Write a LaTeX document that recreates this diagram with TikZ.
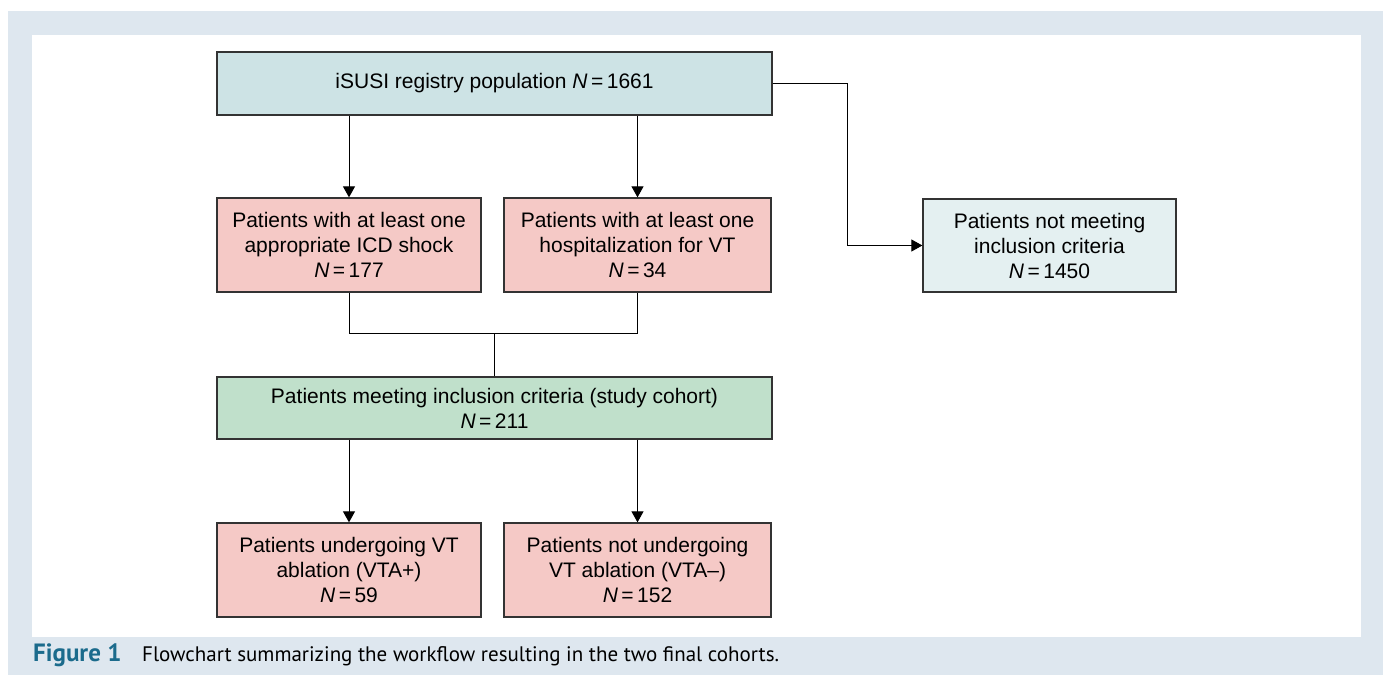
\documentclass[tikz,border=0pt]{standalone}
\usepackage{fontspec}
\setmainfont{Liberation Sans}
\newfontfamily\capfont{PT Sans}
\usetikzlibrary{arrows.meta}
\definecolor{panel}{HTML}{DEE7EF}
\definecolor{topfill}{HTML}{CDE3E5}
\definecolor{pinkfill}{HTML}{F5C9C6}
\definecolor{greenfill}{HTML}{C0E0CB}
\definecolor{palefill}{HTML}{E4F0F1}
\definecolor{figblue}{HTML}{1B6B8C}
\definecolor{edge}{HTML}{333333}
\tikzset{
  box/.style={draw=edge, line width=1.3pt, align=center, inner sep=0pt,
    font=\fontsize{21}{25}\selectfont, text=black},
  conn/.style={draw=black, line width=1pt},
  arr/.style={conn, -{Triangle[width=12pt,length=11pt]}},
  captxt/.style={anchor=base west, inner sep=0pt},
}
\begin{document}
\begin{tikzpicture}[x=1pt,y=-1pt]
\useasboundingbox (0,0) rectangle (1386,684);
\fill[white] (0,0) rectangle (1386,684);
\fill[panel] (8,11) rectangle (1383,675);
\fill[white] (32,35) rectangle (1361,637);

\node[box, fill=topfill, minimum width=555pt, minimum height=63pt] (top) at (494.5,83.5)
  {iSUSI registry population \textit{N}\,=\,1661};
\node[box, fill=pinkfill, minimum width=264pt, minimum height=94pt] (shock) at (349,245)
  {Patients with at least one\\appropriate ICD shock\\\textit{N}\,=\,177};
\node[box, fill=pinkfill, minimum width=267pt, minimum height=94pt] (hosp) at (637.5,245)
  {Patients with at least one\\hospitalization for VT\\\textit{N}\,=\,34};
\node[box, fill=palefill, minimum width=253pt, minimum height=93pt] (notmeet) at (1049.5,245.5)
  {Patients not meeting\\inclusion criteria\\\textit{N}\,=\,1450};
\node[box, fill=greenfill, minimum width=555pt, minimum height=62pt] (cohort) at (494.5,408)
  {Patients meeting inclusion criteria (study cohort)\\\textit{N}\,=\,211};
\node[box, fill=pinkfill, minimum width=264pt, minimum height=94pt] (vtap) at (349,570)
  {Patients undergoing VT\\ablation (VTA+)\\\textit{N}\,=\,59};
\node[box, fill=pinkfill, minimum width=267pt, minimum height=94pt] (vtam) at (637.5,570)
  {Patients not undergoing\\VT ablation (VTA--)\\\textit{N}\,=\,152};

\coordinate (bend) at (847,83.5);
\coordinate (join) at (494.5,334);

\draw[arr] (shock.north |- top.south) -- (shock.north);
\draw[arr] (hosp.north |- top.south) -- (hosp.north);
\draw[arr] (top.east) -- (bend) |- (notmeet.west);
\draw[conn] (shock.south) -- (shock.south |- join) -- (hosp.south |- join) -- (hosp.south);
\draw[conn] (join) -- (cohort.north);
\draw[arr] (vtap.north |- cohort.south) -- (vtap.north);
\draw[arr] (vtam.north |- cohort.south) -- (vtam.north);

\node[captxt, text=figblue, font=\capfont\bfseries\fontsize{25}{28}\selectfont] (figlabel) at (33,661) {Figure 1};
\node[captxt, font=\capfont\fontsize{21}{24}\selectfont] (caption) at (142,661)
  {Flowchart summarizing the workflow resulting in the two final cohorts.};
\end{tikzpicture}
\end{document}
